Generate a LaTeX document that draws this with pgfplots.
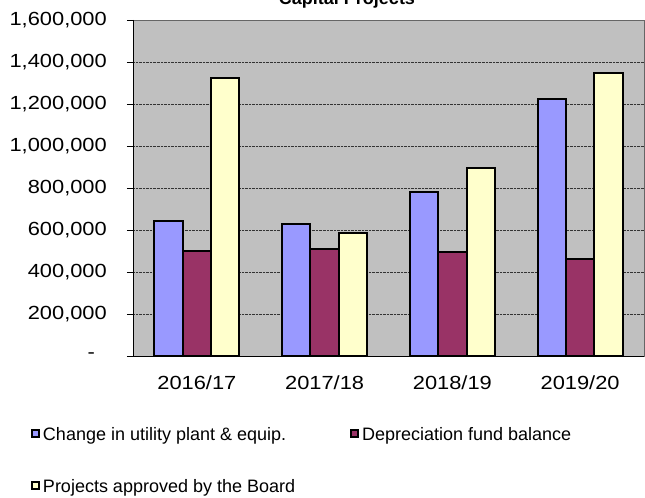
\documentclass[border=0pt]{standalone}
\usepackage{fontspec}
\setmainfont{Liberation Sans}
\newfontfamily\tickfont{Liberation Sans}[FakeStretch=1.15]
\usepackage{pgfplots}
\pgfplotsset{compat=1.18}
\definecolor{bgc}{HTML}{C0C0C0}
\definecolor{cblue}{HTML}{9999FF}
\definecolor{cmaroon}{HTML}{993366}
\definecolor{cyellow}{HTML}{FFFFCC}
\begin{document}
\begin{tikzpicture}
\begin{axis}[
  at={(0,0)}, anchor=south west,
  scale only axis,
  width=511bp, height=336bp,
  xmin=-0.5, xmax=3.5,
  ymin=0, ymax=1600000,
  scaled y ticks=false,
  axis background/.style={fill=bgc},
  axis line style={draw=gray!80!black, line width=0.8bp},
  ybar=0pt, bar width=28.3bp,
  xtick={0,1,2,3},
  xticklabels={2016/17,2017/18,2018/19,2019/20},
  xtick style={draw=none},
  minor xtick={-0.5,0.5,1.5,2.5,3.5},
  minor tick length=6bp,
  minor x tick style={black, line width=0.8bp},
  xtick pos=bottom, ytick pos=left,
  tick align=outside,
  major tick length=6bp,
  ytick={0,200000,400000,600000,800000,1000000,1200000,1400000,1600000},
  yticklabels={{-\hspace*{12bp}},{200,000},{400,000},{600,000},{800,000},{1,000,000},{1,200,000},{1,400,000},{1,600,000}},
  ytick style={black, line width=0.8bp},
  ymajorgrids,
  major grid style={densely dotted, gray!40!black, line width=0.9bp},
  tick label style={font=\tickfont\fontsize{19bp}{22bp}\selectfont},
  yticklabel style={anchor=east, inner sep=0pt, xshift=-20bp},
  xticklabel style={anchor=base, inner sep=0pt, yshift=-27bp},
  legend columns=2,
  legend style={at={(axis description cs:-0.2,-0.2128)}, anchor=north west,
    draw=none, fill=none, inner sep=0pt,
    font=\fontsize{18bp}{21bp}\selectfont,
    nodes={inner sep=0pt, text height=13bp, text depth=4bp},
    row sep=35bp,
    /tikz/every odd column/.append style={column sep=3bp},
    /tikz/every even column/.append style={column sep=55bp}},
  legend cell align=left,
  legend image code/.code={\draw[#1, line width=2bp, draw=black] (1bp,-1bp) rectangle (8bp,6bp);},
  clip=false,
]
\addplot[fill=cblue, draw=black, line width=2bp] coordinates {(0,644000) (1,627000) (2,781000) (3,1223000)};
\addplot[fill=cmaroon, draw=black, line width=2bp] coordinates {(0,498000) (1,508000) (2,496000) (3,461000)};
\addplot[fill=cyellow, draw=black, line width=2bp] coordinates {(0,1322000) (1,587000) (2,893000) (3,1348000)};
\legend{Change in utility plant \& equip.,Depreciation fund balance,Projects approved by the Board}
\draw[black, line width=0.9bp] (rel axis cs:0,1) -- (rel axis cs:0,0) -- (rel axis cs:1,0);
\end{axis}
\node[anchor=base, font=\bfseries\fontsize{18bp}{21bp}\selectfont, inner sep=0pt] at (214bp,351bp) {Capital Projects};
\pgfresetboundingbox
\useasboundingbox (-133bp,-142bp) rectangle (512bp,356bp);
\end{tikzpicture}
\end{document}
